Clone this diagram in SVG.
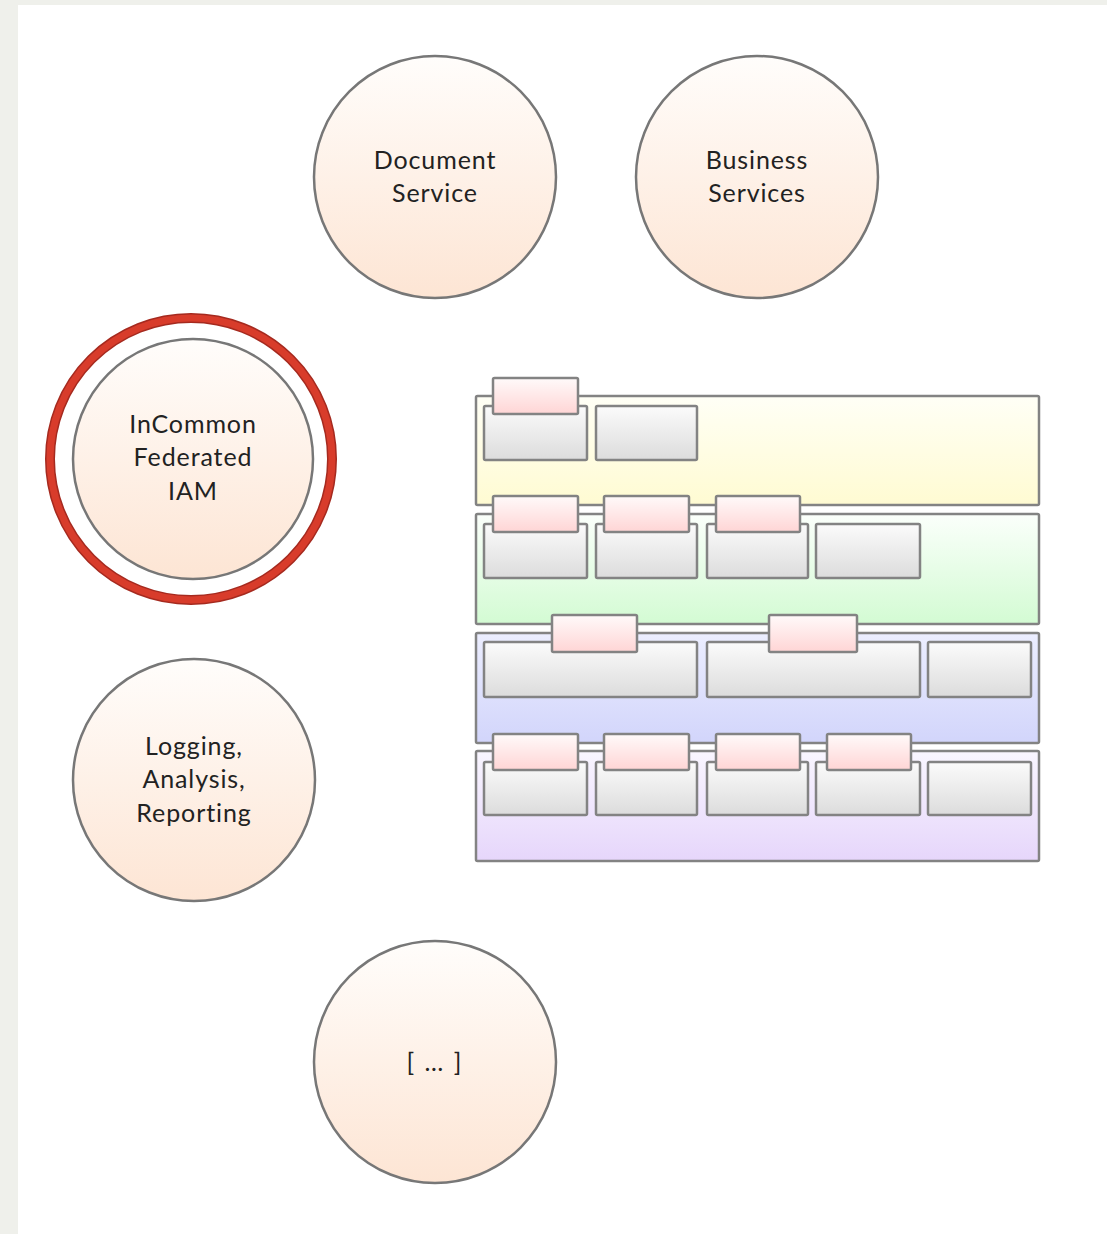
<svg xmlns="http://www.w3.org/2000/svg" width="1107" height="1234" viewBox="0 0 1107 1234">
<defs>
<linearGradient id="gCircle" x1="0" y1="0" x2="0" y2="1"><stop offset="0" stop-color="#fffdfb"/><stop offset="1" stop-color="#fde5d4"/></linearGradient>
<linearGradient id="gGray" x1="0" y1="0" x2="0" y2="1"><stop offset="0" stop-color="#fbfbfb"/><stop offset="1" stop-color="#dcdcdc"/></linearGradient>
<linearGradient id="gPink" x1="0" y1="0" x2="0" y2="1"><stop offset="0" stop-color="#fffafa"/><stop offset="1" stop-color="#ffd5d5"/></linearGradient>
<linearGradient id="gYellow" x1="0" y1="0" x2="0" y2="1"><stop offset="0" stop-color="#fffff6"/><stop offset="1" stop-color="#fffbd2"/></linearGradient>
<linearGradient id="gGreen" x1="0" y1="0" x2="0" y2="1"><stop offset="0" stop-color="#fbfffb"/><stop offset="1" stop-color="#d3fbd3"/></linearGradient>
<linearGradient id="gBlue" x1="0" y1="0" x2="0" y2="1"><stop offset="0" stop-color="#eceeff"/><stop offset="1" stop-color="#d2d5fb"/></linearGradient>
<linearGradient id="gPurple" x1="0" y1="0" x2="0" y2="1"><stop offset="0" stop-color="#f9f6ff"/><stop offset="1" stop-color="#e6d6fb"/></linearGradient>
</defs>
<style>
.c{fill:url(#gCircle);stroke:#777;stroke-width:2.5}
.t{font-family:Lato,"Open Sans","Liberation Sans",sans-serif;font-size:25px;letter-spacing:0.9px;fill:#222;text-anchor:middle}
.layer{stroke:#838383;stroke-width:2.5}
.g{fill:url(#gGray);stroke:#838383;stroke-width:2.5}
.p{fill:url(#gPink);stroke:#838383;stroke-width:2.5}
</style>
<rect x="0" y="0" width="1107" height="1234" fill="#eff0eb"/>
<rect x="18" y="5" width="1089" height="1229" fill="#ffffff"/>

<g id="document-service">
<circle class="c" cx="435" cy="177" r="121"/>
<text class="t" x="435" y="169">Document</text>
<text class="t" x="435" y="202">Service</text>
</g>
<g id="business-services">
<circle class="c" cx="757" cy="177" r="121"/>
<text class="t" x="757" y="169">Business</text>
<text class="t" x="757" y="202">Services</text>
</g>
<g id="incommon-iam">
<circle cx="191" cy="459" r="141" fill="none" stroke="#a52a1f" stroke-width="10"/>
<circle cx="191" cy="459" r="141" fill="none" stroke="#d83c2b" stroke-width="7"/>
<circle class="c" cx="193" cy="459" r="120"/>
<text class="t" x="193" y="433">InCommon</text>
<text class="t" x="193" y="466">Federated</text>
<text class="t" x="193" y="500">IAM</text>
</g>
<g id="logging">
<circle class="c" cx="194" cy="780" r="121"/>
<text class="t" x="194" y="755">Logging,</text>
<text class="t" x="194" y="788">Analysis,</text>
<text class="t" x="194" y="822">Reporting</text>
</g>
<g id="more">
<circle class="c" cx="435" cy="1062" r="121"/>
<text class="t" x="435" y="1071" style="letter-spacing:2px">[ … ]</text>
</g>

<g id="layer1">
<rect class="layer" x="476" y="396" width="563" height="109" fill="url(#gYellow)" rx="1.5"/>
<rect class="g" x="484" y="406" width="103" height="54" rx="1.5"/>
<rect class="g" x="596" y="406" width="101" height="54" rx="1.5"/>
<rect class="p" x="493" y="378" width="85" height="36" rx="1.5"/>
</g>
<g id="layer2">
<rect class="layer" x="476" y="514" width="563" height="110" fill="url(#gGreen)" rx="1.5"/>
<rect class="g" x="484" y="524" width="103" height="54" rx="1.5"/>
<rect class="g" x="596" y="524" width="101" height="54" rx="1.5"/>
<rect class="g" x="707" y="524" width="101" height="54" rx="1.5"/>
<rect class="g" x="816" y="524" width="104" height="54" rx="1.5"/>
<rect class="p" x="493" y="496" width="85" height="36" rx="1.5"/>
<rect class="p" x="604" y="496" width="85" height="36" rx="1.5"/>
<rect class="p" x="716" y="496" width="84" height="36" rx="1.5"/>
</g>
<g id="layer3">
<rect class="layer" x="476" y="633" width="563" height="110" fill="url(#gBlue)" rx="1.5"/>
<rect class="g" x="484" y="642" width="213" height="55" rx="1.5"/>
<rect class="g" x="707" y="642" width="213" height="55" rx="1.5"/>
<rect class="g" x="928" y="642" width="103" height="55" rx="1.5"/>
<rect class="p" x="552" y="615" width="85" height="37" rx="1.5"/>
<rect class="p" x="769" y="615" width="88" height="37" rx="1.5"/>
</g>
<g id="layer4">
<rect class="layer" x="476" y="751" width="563" height="110" fill="url(#gPurple)" rx="1.5"/>
<rect class="g" x="484" y="762" width="103" height="53" rx="1.5"/>
<rect class="g" x="596" y="762" width="101" height="53" rx="1.5"/>
<rect class="g" x="707" y="762" width="101" height="53" rx="1.5"/>
<rect class="g" x="816" y="762" width="104" height="53" rx="1.5"/>
<rect class="g" x="928" y="762" width="103" height="53" rx="1.5"/>
<rect class="p" x="493" y="734" width="85" height="36" rx="1.5"/>
<rect class="p" x="604" y="734" width="85" height="36" rx="1.5"/>
<rect class="p" x="716" y="734" width="84" height="36" rx="1.5"/>
<rect class="p" x="827" y="734" width="84" height="36" rx="1.5"/>
</g>
<g id="connectors"></g>
</svg>
